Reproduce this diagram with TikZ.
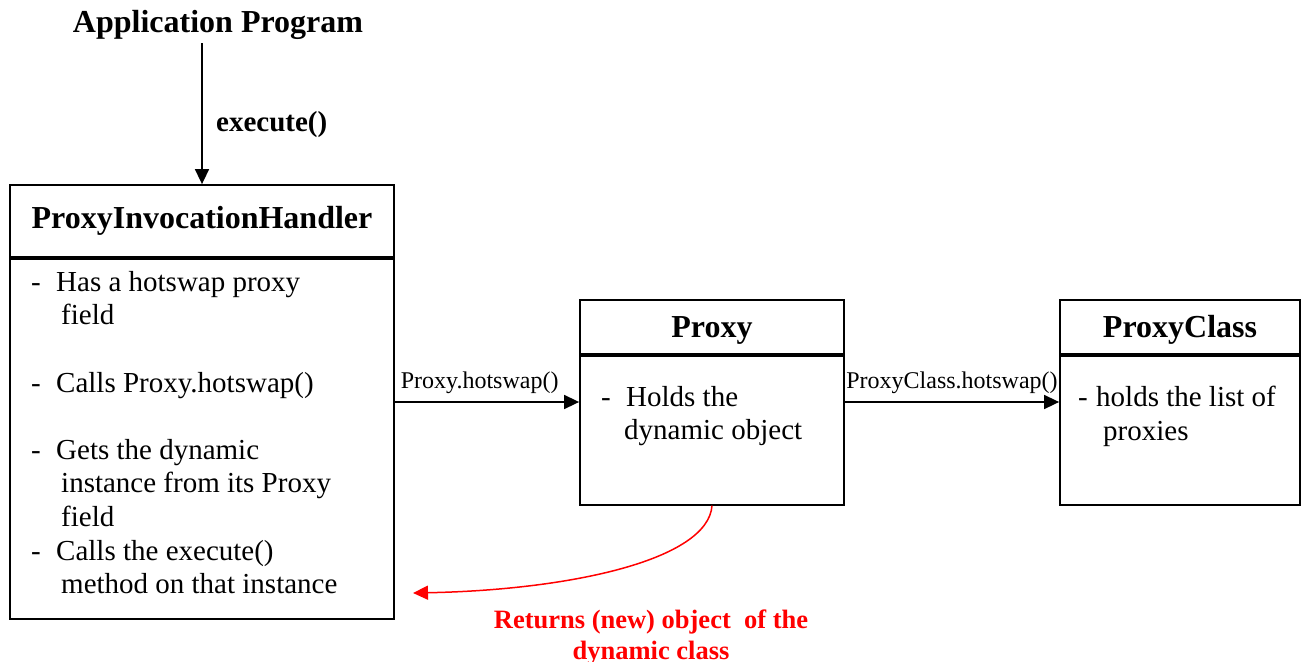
\documentclass[tikz,border=0pt]{standalone}
\usepackage{fontspec}
\setmainfont{Liberation Serif}
\usetikzlibrary{arrows.meta}
\definecolor{retred}{HTML}{FF0000}

\begin{document}
\begin{tikzpicture}[x=1pt, y=-1pt,
    box/.style={draw, line width=1.8pt, inner sep=0pt},
    titlebox/.style={box, font=\fontsize{32}{38}\selectfont\bfseries},
    bodytext/.style={anchor=north west, align=left, inner sep=0pt,
      font=\fontsize{29}{33.6}\selectfont},
    call/.style={-{Triangle[length=15pt,width=14pt]}, line width=1.6pt},
    callname/.style={font=\fontsize{24}{28}\selectfont, inner sep=2pt, yshift=6pt},
    ret/.style={-{Triangle[length=15pt,width=14pt]}, line width=1.5pt, draw=retred}
]
  \useasboundingbox (0,0) rectangle (1305,661);

  % Application program on top
  \node[font=\fontsize{32}{38}\selectfont\bfseries] (app) at (218,25) {Application Program};

  % ProxyInvocationHandler
  \node[titlebox, minimum width=384pt, minimum height=72pt] (pih) at (202,221) {ProxyInvocationHandler};
  \node[box, minimum width=384pt, minimum height=360pt, anchor=north] (pihbody) at (pih.south) {};
  \node[bodytext] (pihtext) at (31,271) {%
    \makebox[25pt][l]{-}Has a hotswap proxy\\
    \hspace*{30pt}field\\[33.6pt]
    \makebox[25pt][l]{-}Calls Proxy.hotswap()\\[33.6pt]
    \makebox[25pt][l]{-}Gets the dynamic\\
    \hspace*{30pt}instance from its Proxy\\
    \hspace*{30pt}field\\
    \makebox[25pt][l]{-}Calls the execute()\\
    \hspace*{30pt}method on that instance};

  % Proxy
  \node[titlebox, minimum width=264pt, minimum height=54pt, text height=20pt, text depth=0pt] (proxy) at (712,327) {Proxy};
  \node[box, minimum width=264pt, minimum height=149pt, anchor=north] (proxybody) at (proxy.south) {};
  \node[bodytext] (proxytext) at (601,386) {%
    \makebox[25pt][l]{-}Holds the\\
    \hspace*{23pt}dynamic object};

  % ProxyClass
  \node[titlebox, minimum width=240pt, minimum height=54pt, text height=20pt, text depth=0pt] (pclass) at (1180,327) {ProxyClass};
  \node[box, minimum width=240pt, minimum height=149pt, anchor=north] (pclassbody) at (pclass.south) {};
  \node[bodytext] (pclasstext) at (1078,386) {%
    \makebox[18pt][l]{-}holds the list of\\
    \hspace*{25pt}proxies};

  % calls
  \coordinate (hsy) at (0,402);
  \draw[call] (app.south -| pih.north) -- (pih.north)
    node[pos=0.58, right=10pt, font=\fontsize{29}{34}\selectfont\bfseries] (exec) {execute()};
  \draw[call] (pihbody.east |- hsy) -- (proxybody.west |- hsy)
    node[pos=0.46, above, callname] (hslbl) {Proxy.hotswap()};
  \draw[call] (proxybody.east |- hsy) -- (pclassbody.west |- hsy)
    node[midway, above, callname] (pchslbl) {ProxyClass.hotswap()};

  % returned object
  \coordinate (retend) at (413,593);
  \draw[ret] (proxybody.south) .. controls (708,560) and (570,590) .. (retend);
  \node[align=center, text=retred, font=\fontsize{26.5}{31}\selectfont\bfseries] (retlbl) at (651,638)
    {Returns (new) object~ of the\\dynamic class};

\end{tikzpicture}
\end{document}
